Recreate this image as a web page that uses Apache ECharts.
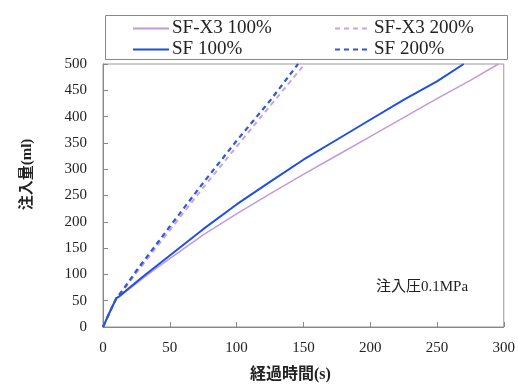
<!DOCTYPE html>
<html>
<head>
<meta charset="utf-8">
<script src="https://cdn.jsdelivr.net/npm/echarts@6/dist/echarts.min.js"></script>
<style>
  html, body { margin: 0; padding: 0; background: #fff; }
  #main { width: 518px; height: 388px; }
</style>
</head>
<body>
<div id="main"></div>
<script>
// 系列データ [経過時間(s), 注入量(ml)]
var sfx3_100 = [[0,0],[5,28],[10,54],[12,57],[20,73],[30,93],[40,112],[50,130],[75,175],[100,215],[125,253],[150,290],[175,326],[200,362],[225,398],[250,434],[275,469],[296,500]];
var sfx3_200 = [[0,0],[5,28],[10,54],[15,69],[25,103],[50,184],[75,265],[100,343],[125,420],[151,500]];
var sf_100 = [[0,0],[5,28],[10,55],[12,58],[20,75],[30,96],[40,116],[50,136],[75,186],[100,233],[125,276],[150,318],[175,356],[200,394],[225,432],[250,467],[270,500]];
var sf_200 = [[0,0],[5,28],[10,55],[15,71],[25,107],[50,191],[75,274],[100,354],[125,430],[146,500]];

var names = ['SF-X3 100%', 'SF-X3 200%', 'SF 100%', 'SF 200%'];
var xTicks = [0, 300, 50];   // min, max, interval
var yTicks = [0, 500, 50];

var serif = "'Liberation Serif', 'Times New Roman', 'Noto Sans CJK JP', serif";

var myChart = echarts.init(document.getElementById('main'));

function oneLegend(name, left, top) {
    return {
        data: [name],
        left: left, top: top,
        itemWidth: 36, itemHeight: 10, itemGap: 0,
        itemStyle: { opacity: 0 },
        textStyle: { fontFamily: serif, fontSize: 19, color: '#222', padding: [0,0,0,-2] },
        padding: 0,
        selectedMode: false
    };
}

myChart.setOption({
    animation: false,
    backgroundColor: '#fff',
    grid: {
        left: 103, right: 14, top: 64, bottom: 61,
        show: true, borderColor: '#999', borderWidth: 1
    },
    legend: [
        oneLegend(names[0], 132, 19),
        oneLegend(names[1], 334, 19),
        oneLegend(names[2], 132, 40),
        oneLegend(names[3], 334, 40)
    ],
    graphic: [
        {
            type: 'rect', left: 103, top: 13,
            shape: { width: 402, height: 44 },
            style: { fill: 'none', stroke: '#888', lineWidth: 1 }
        },
        {
            type: 'text', left: 376, top: 280,
            style: { text: '注入圧0.1MPa', font: "15px " + serif, fill: '#222' }
        }
    ],
    xAxis: {
        type: 'value',
        min: xTicks[0], max: xTicks[1], interval: xTicks[2],
        name: '経過時間(s)',
        nameLocation: 'middle', nameGap: 40,
        nameTextStyle: { fontFamily: serif, fontSize: 16, color: '#222', fontWeight: 'bold', padding: [0, 26, 0, 0] },
        axisLine: { lineStyle: { color: '#888' } },
        axisTick: { inside: true, length: 5, lineStyle: { color: '#888' } },
        axisLabel: { fontFamily: serif, fontSize: 15, color: '#222', margin: 14 },
        splitLine: { show: false }
    },
    yAxis: {
        type: 'value',
        min: yTicks[0], max: yTicks[1], interval: yTicks[2],
        name: '注入量(ml)',
        nameLocation: 'middle', nameGap: 68, nameRotate: 90,
        nameTextStyle: { fontFamily: serif, fontSize: 15, color: '#222', fontWeight: 'bold', padding: [0, 0, 0, 42] },
        axisLine: { show: true, lineStyle: { color: '#888' } },
        axisTick: { show: true, inside: true, length: 5, lineStyle: { color: '#888' } },
        axisLabel: { fontFamily: serif, fontSize: 15, color: '#222', margin: 16 },
        splitLine: { show: false }
    },
    series: [
        {
            name: names[0], type: 'line', data: sfx3_100, symbol: 'none',
            lineStyle: { color: '#c49ad6', width: 1.5 }, itemStyle: { color: '#c49ad6' }
        },
        {
            name: names[1], type: 'line', data: sfx3_200, symbol: 'none',
            lineStyle: { color: '#c9a3dc', width: 2, type: [5, 4] }, itemStyle: { color: '#c9a3dc' }
        },
        {
            name: names[2], type: 'line', data: sf_100, symbol: 'none',
            lineStyle: { color: '#1f4fe6', width: 2 }, itemStyle: { color: '#1f4fe6' }
        },
        {
            name: names[3], type: 'line', data: sf_200, symbol: 'none',
            lineStyle: { color: '#3058d0', width: 2.2, type: [5, 4] }, itemStyle: { color: '#3058d0' }
        }
    ]
});
</script>
</body>
</html>
